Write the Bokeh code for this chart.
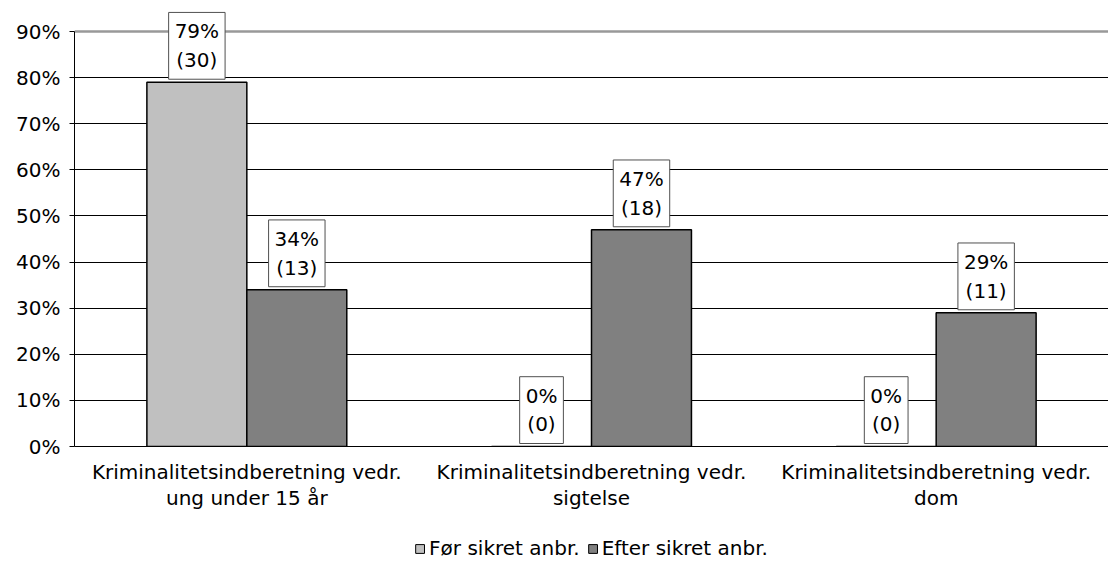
from bokeh.plotting import figure
from bokeh.layouts import column
from bokeh.models import (FactorRange, ColumnDataSource,
                          FixedTicker, Span, CustomJSTickFormatter, Range1d)
from bokeh.core.properties import value
from bokeh.transform import dodge
from bokeh.embed import file_html
from bokeh.resources import INLINE

categories = ["Kriminalitetsindberetning vedr.\nung under 15 år",
              "Kriminalitetsindberetning vedr.\nsigtelse",
              "Kriminalitetsindberetning vedr.\ndom"]
series_names = ["Før sikret anbr.", "Efter sikret anbr."]
before_pct = [79, 0, 0]
after_pct = [34, 47, 29]
before_n = [30, 0, 0]
after_n = [13, 18, 11]
y_ticks = [0, 10, 20, 30, 40, 50, 60, 70, 80, 90]
series_colors = ["#c0c0c0", "#808080"]

FONT = "DejaVu Sans"
FS = "20px"

src = ColumnDataSource(dict(
    cat=categories,
    before=before_pct, after=after_pct,
    before_lbl=[f"{p}%\n({n})" for p, n in zip(before_pct, before_n)],
    after_lbl=[f"{p}%\n({n})" for p, n in zip(after_pct, after_n)],
))

# frame extends a little above the 90% line so the top value box is not clipped
Y_MAX = y_ticks[-1]
TOP_PX, FRAME_BOTTOM, AXIS_TOP = 4, 446, 31
y_end = Y_MAX * (FRAME_BOTTOM - TOP_PX) / (FRAME_BOTTOM - AXIS_TOP)

p = figure(x_range=FactorRange(*categories, range_padding=0), y_range=(0, y_end),
           width=1108, height=515, output_backend="svg", toolbar_location=None,
           min_border_left=74, min_border_right=0, min_border_top=TOP_PX,
           min_border_bottom=515 - FRAME_BOTTOM)
p.outline_line_color = None
p.background_fill_color = "white"

w = 0.29
r1 = p.vbar(x=dodge("cat", -w / 2, range=p.x_range), top="before", width=w, source=src,
            fill_color=series_colors[0], line_color="black", line_width=1.5)
r2 = p.vbar(x=dodge("cat", w / 2, range=p.x_range), top="after", width=w, source=src,
            fill_color=series_colors[1], line_color="black", line_width=1.5)

for col, off in (("before", -w / 2), ("after", w / 2)):
    p.text(x=dodge("cat", off, range=p.x_range), y=col, text=col + "_lbl", source=src,
           anchor="bottom_center", text_align="center", text_baseline="middle", y_offset=-3,
           text_font=value(FONT), text_font_size=FS, text_color="black", text_line_height=1.2,
           background_fill_color="white", border_line_color="#505050", border_line_width=1,
           padding=dict(top=7, right=6, bottom=7, left=6))

p.add_layout(Span(location=Y_MAX, dimension="width", line_color="#999999", line_width=2.5,
                  level="underlay"), "center")

p.xgrid.grid_line_color = None
p.ygrid.ticker = FixedTicker(ticks=y_ticks[1:-1])
p.ygrid.grid_line_color = "black"
p.ygrid.grid_line_width = 1

p.yaxis.ticker = FixedTicker(ticks=y_ticks)
p.yaxis.bounds = (0, Y_MAX)
p.yaxis.formatter = CustomJSTickFormatter(code="return tick + '%'")
p.yaxis.axis_line_color = "black"
p.yaxis.major_tick_line_color = "black"
p.yaxis.major_tick_out = 5
p.yaxis.major_tick_in = 0
p.yaxis.minor_tick_line_color = None
p.yaxis.major_label_text_font = FONT
p.yaxis.major_label_text_font_size = FS
p.yaxis.major_label_text_color = "black"
p.yaxis.major_label_standoff = 9

p.xaxis.axis_line_color = "black"
p.xaxis.major_tick_line_color = None
p.xaxis.major_label_text_font = FONT
p.xaxis.major_label_text_font_size = FS
p.xaxis.major_label_text_color = "black"
p.xaxis.major_label_text_line_height = 1.1
p.xaxis.major_label_standoff = 7

# legend strip below the chart (proxy swatches lie outside the visible range)
pl = figure(width=1108, height=66, output_backend="svg", toolbar_location=None,
            x_range=Range1d(1, 2), y_range=Range1d(1, 2),
            min_border_left=74, min_border_right=0, min_border_top=0, min_border_bottom=0)
pl.axis.visible = False
pl.grid.visible = False
pl.outline_line_color = None
leg_src = ColumnDataSource(dict(name=series_names, color=series_colors,
                                x=[0] * len(series_names), top=[0] * len(series_names)))
pl.vbar(x="x", top="top", width=0, source=leg_src, fill_color="color",
        line_color="black", line_width=1, legend_field="name")
legend = pl.legend[0]
legend.orientation = "horizontal"
legend.location = "center"
legend.label_text_font = FONT
legend.label_text_font_size = FS
legend.label_text_color = "black"
legend.glyph_width = 11
legend.glyph_height = 11
legend.label_standoff = 4
legend.spacing = 7
legend.border_line_color = None
legend.background_fill_alpha = 0
legend.margin = 0
legend.padding = 2

layout = column(p, pl, spacing=0)
open("out.html", "w").write(file_html(layout, INLINE))
